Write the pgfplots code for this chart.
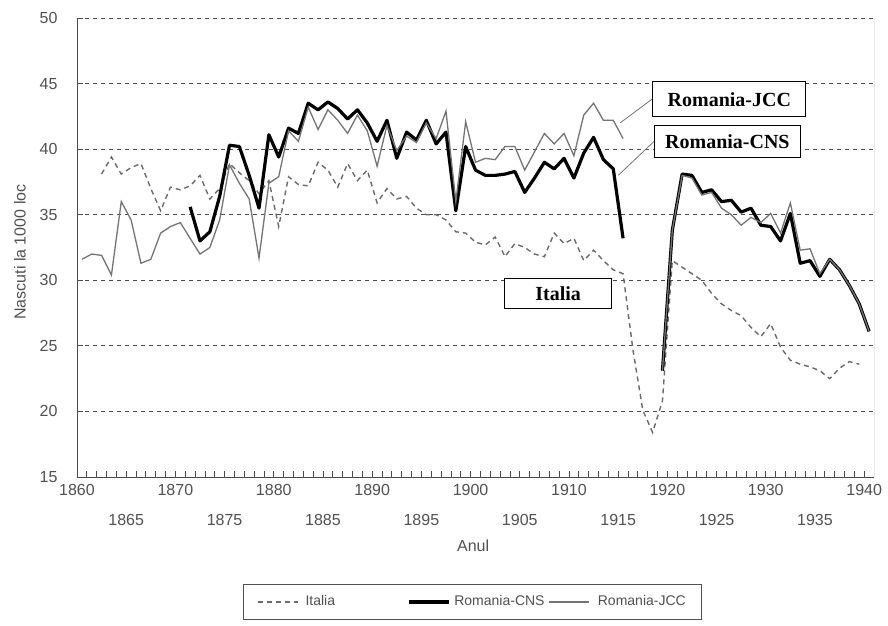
\documentclass[border=0pt]{standalone}
\usepackage{pgfplots}
\pgfplotsset{compat=1.18}
\usepackage{fontspec}
\setmainfont{Liberation Sans}
\newfontfamily\boxfont{Liberation Serif}
\definecolor{txtgray}{HTML}{505050}
\definecolor{gridgray}{HTML}{4A4A4A}
\definecolor{jccgray}{HTML}{747474}
\definecolor{itgray}{HTML}{6A6A6A}

\begin{document}
\fontsize{16}{19}\selectfont
\begin{tikzpicture}
\useasboundingbox (0,0) rectangle (888pt,-625pt);
\begin{axis}[
    at={(77pt,-477pt)}, anchor=south west,
    scale only axis, width=797pt, height=459pt,
    xmin=1859.5, xmax=1940.5, ymin=15, ymax=50,
    axis line style={draw=none},
    xtick={1859.5,1869.5,1879.5,1889.5,1899.5,1909.5,1919.5,1929.5,1939.5},
    xticklabels={1860,1870,1880,1890,1900,1910,1920,1930,1940},
    extra x ticks={1864.5,1874.5,1884.5,1894.5,1904.5,1914.5,1924.5,1934.5},
    extra x tick labels={1865,1875,1885,1895,1905,1915,1925,1935},
    extra x tick style={grid=none, xticklabel style={yshift=-30pt}},
    minor x tick num=9,
    ytick={15,20,...,50},
    xtick pos=left, ytick pos=left,
    tick align=inside,
    major tick length=6pt, minor tick length=6pt,
    tick style={gridgray, line width=0.8pt},
    ymajorgrids,
    major grid style={gridgray, line width=0.9pt, dash pattern=on 4pt off 4pt},
    tick label style={txtgray, font=\fontsize{16}{19}\selectfont},
    /pgf/number format/assume math mode=true,
    /pgf/number format/1000 sep={},
    xticklabel style={yshift=-2pt},
    yticklabel style={xshift=-14pt},
    xlabel={Anul},
    xlabel style={at={(axis description cs:0.497,0)}, anchor=center, yshift=-69pt, txtgray},
    ylabel={Nascuti la 1000 loc},
    ylabel style={at={(axis description cs:-0.0715,0.49)}, anchor=center, txtgray},
    unbounded coords=jump,
    legend columns=3,
    legend cell align=left,
    legend image code/.code={\draw[#1] (0pt,0pt) -- (40pt,0pt);},
    legend style={at={(0.4962,-0.2723)}, anchor=center, draw=txtgray,
        line width=0.8pt, inner xsep=14pt, inner ysep=9pt,
        font=\fontsize{14}{17}\selectfont\color{txtgray},
        /tikz/every even column/.append style={column sep=2pt}},
]
% Italia
\addplot[itgray, line width=1.4pt, dash pattern=on 5pt off 4pt] coordinates {
 (1862,38.1) (1863,39.4) (1864,38.1) (1865,38.6) (1866,38.9) (1867,37.0)
 (1868,35.3) (1869,37.1) (1870,36.9) (1871,37.2) (1872,38.0) (1873,36.2)
 (1874,37.0) (1875,38.9) (1876,38.2) (1877,37.6) (1878,36.6) (1879,37.6)
 (1880,34.1) (1881,37.9) (1882,37.3) (1883,37.2) (1884,39.0) (1885,38.4)
 (1886,37.1) (1887,38.9) (1888,37.6) (1889,38.4) (1890,35.9) (1891,37.0)
 (1892,36.2) (1893,36.4) (1894,35.5) (1895,35.0) (1896,35.0) (1897,34.6)
 (1898,33.7) (1899,33.6) (1900,32.9) (1901,32.7) (1902,33.3) (1903,31.8)
 (1904,32.8) (1905,32.5) (1906,32.0) (1907,31.8) (1908,33.6) (1909,32.8)
 (1910,33.2) (1911,31.5) (1912,32.3) (1913,31.5) (1914,30.8) (1915,30.5)
 (1916,24.7) (1917,20.1) (1918,18.4) (1919,20.8) (1920,31.5) (1921,31.0)
 (1922,30.5) (1923,30.0) (1924,29.0) (1925,28.2) (1926,27.7) (1927,27.3)
 (1928,26.4) (1929,25.7) (1930,26.7) (1931,24.9) (1932,23.9) (1933,23.6)
 (1934,23.4) (1935,23.1) (1936,22.5) (1937,23.3) (1938,23.8) (1939,23.6)
};
\addlegendentry{\hspace*{5pt}Italia\hspace*{68pt}}
% Romania-CNS
\addplot[black, line width=3.2pt, line join=round] coordinates {
 (1871,35.6) (1872,33.0) (1873,33.7) (1874,36.4) (1875,40.3) (1876,40.2)
 (1877,38.0) (1878,35.5) (1879,41.1) (1880,39.4) (1881,41.6) (1882,41.2)
 (1883,43.5) (1884,43.0) (1885,43.6) (1886,43.1) (1887,42.3) (1888,43.0)
 (1889,42.0) (1890,40.6) (1891,42.2) (1892,39.3) (1893,41.3) (1894,40.7)
 (1895,42.2) (1896,40.4) (1897,41.3) (1898,35.3) (1899,40.2) (1900,38.4)
 (1901,38.0) (1902,38.0) (1903,38.1) (1904,38.3) (1905,36.7) (1906,37.8)
 (1907,39.0) (1908,38.5) (1909,39.3) (1910,37.8) (1911,39.7) (1912,40.9)
 (1913,39.2) (1914,38.5) (1915,33.2) (1916,nan) (1917,nan) (1918,nan)
 (1919,23.1) (1920,33.8) (1921,38.1) (1922,38.0) (1923,36.7) (1924,36.9)
 (1925,36.0) (1926,36.1) (1927,35.2) (1928,35.5) (1929,34.2) (1930,34.1)
 (1931,33.0) (1932,35.1) (1933,31.3) (1934,31.5) (1935,30.3) (1936,31.6)
 (1937,30.8) (1938,29.6) (1939,28.2) (1940,26.1)
};
\addlegendentry{\hspace*{2pt}Romania-CNS}
% Romania-JCC
\addplot[jccgray, line width=1.3pt] coordinates {
 (1860,31.6) (1861,32.0) (1862,31.9) (1863,30.4) (1864,36.0) (1865,34.6)
 (1866,31.3) (1867,31.6) (1868,33.6) (1869,34.1) (1870,34.4) (1871,33.2)
 (1872,32.0) (1873,32.5) (1874,34.6) (1875,38.8) (1876,37.4) (1877,36.2)
 (1878,31.7) (1879,37.4) (1880,37.9) (1881,41.4) (1882,40.6) (1883,43.2)
 (1884,41.5) (1885,43.0) (1886,42.2) (1887,41.2) (1888,42.6) (1889,41.4)
 (1890,38.7) (1891,41.8) (1892,39.9) (1893,41.0) (1894,40.5) (1895,42.0)
 (1896,40.8) (1897,42.9) (1898,36.0) (1899,42.1) (1900,39.0) (1901,39.3)
 (1902,39.2) (1903,40.2) (1904,40.2) (1905,38.4) (1906,39.8) (1907,41.2)
 (1908,40.4) (1909,41.2) (1910,39.5) (1911,42.6) (1912,43.5) (1913,42.2)
 (1914,42.2) (1915,40.8) (1916,nan) (1917,nan) (1918,nan) (1919,23.1)
 (1920,33.8) (1921,38.0) (1922,37.8) (1923,36.5) (1924,36.7) (1925,35.5)
 (1926,35.0) (1927,34.2) (1928,34.8) (1929,34.4) (1930,35.1) (1931,33.6)
 (1932,35.9) (1933,32.3) (1934,32.4) (1935,30.5) (1936,31.6) (1937,30.8)
 (1938,29.6) (1939,28.2) (1940,26.1)
};
\addlegendentry{\hspace*{6pt}Romania-JCC}

% axis frame: left, bottom, right
\draw[gridgray, line width=0.9pt] (rel axis cs:0,1) -- (rel axis cs:0,0)
    -- (rel axis cs:1,0) -- (rel axis cs:1,1);

% leader lines and labels
\draw[jccgray, line width=0.8pt] (axis cs:1914.7,42.0) -- (axis cs:1918.1,43.9);
\draw[jccgray, line width=0.8pt] (axis cs:1914.5,38.0) -- (axis cs:1918.3,40.7);
\node[draw=black, line width=0.8pt, fill=white, minimum width=153pt, minimum height=35pt,
      font=\boxfont\bfseries\fontsize{20}{22}\selectfont]
      at (axis cs:1925.8,43.8) {Romania-JCC};
\node[draw=black, line width=0.8pt, fill=white, minimum width=146pt, minimum height=32pt,
      font=\boxfont\bfseries\fontsize{20}{22}\selectfont]
      at (axis cs:1925.6,40.6) {Romania-CNS};
\node[draw=black, line width=0.8pt, fill=white, minimum width=107pt, minimum height=30pt,
      font=\boxfont\bfseries\fontsize{20}{22}\selectfont]
      at (axis cs:1908.4,29.0) {Italia};
\end{axis}
\end{tikzpicture}
\end{document}
